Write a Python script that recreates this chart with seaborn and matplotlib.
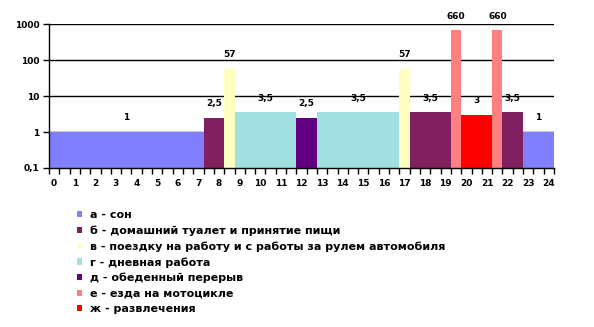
import numpy as np
import pandas as pd
import matplotlib
matplotlib.use("Agg")
import matplotlib.pyplot as plt
import seaborn as sns
from matplotlib.ticker import FixedLocator, FixedFormatter, NullLocator
from matplotlib.patches import Rectangle

# ---- data ----
activities = [
    "а - сон",
    "б - домашний туалет и принятие пищи",
    "в - поездку на работу и с работы за рулем автомобиля",
    "г - дневная работа",
    "д - обеденный перерыв",
    "е - езда на мотоцикле",
    "ж - развлечения",
]
activity_colors = ["#8080FF", "#80205F", "#FFFFC0", "#A0E0E0", "#600080", "#FF8080", "#FF0000"]

# consecutive segments of the day (activity index, start hour, value, label)
seg_activity = [0, 1, 2, 3, 4, 3, 2, 1, 5, 6, 5, 1, 0]
seg_start_hour = [0, 7.5, 8.5, 9, 12, 13, 17, 17.5, 19.5, 20, 21.5, 22, 23]
seg_value = [1, 2.5, 57, 3.5, 2.5, 3.5, 57, 3.5, 660, 3, 660, 3.5, 1]
seg_label = ["1", "2,5", "57", "3,5", "2,5", "3,5", "57", "3,5", "660", "3", "660", "3,5", "1"]

# half-hour slots 0, 0.5, ..., 24
slot_hours = [h / 2 for h in range(49)]
hour_labels = [str(h) for h in range(25)]
y_tick_values = [0.1, 1, 10, 100, 1000]
y_tick_labels = ["0,1", "1", "10", "100", "1000"]

# ---- build table ----
rows = []
for i, h in enumerate(slot_hours):
    seg = max(k for k, s in enumerate(seg_start_hour) if s <= h)
    rows.append({"slot": i, "hour": h, "activity": activities[seg_activity[seg]],
                 "value": seg_value[seg], "seg": seg})
df = pd.DataFrame(rows)

plt.rcParams["font.family"] = ["DejaVu Sans"]
plt.rcParams["font.weight"] = "bold"

fig = plt.figure(figsize=(5.94, 3.27), dpi=100)
fig.patch.set_facecolor("white")
ax = fig.add_axes([49 / 594, 1 - 168 / 327, 505 / 594, 144 / 327])
ax.set_yscale("log")

sns.barplot(data=df, x="slot", y="value", hue="activity", hue_order=activities,
            palette=activity_colors, dodge=False, width=1, errorbar=None,
            saturation=1, linewidth=0, ax=ax, legend=False)

ax.set_xlim(-0.5, 48.5)
ax.set_ylim(0.1, 1000)
ax.set_xlabel("")
ax.set_ylabel("")

# grid
ax.set_axisbelow(True)
ax.yaxis.grid(True, which="major", color="black", linewidth=1)
ax.xaxis.grid(False)
for s in ["top", "right"]:
    ax.spines[s].set_visible(False)
for s in ["left", "bottom"]:
    ax.spines[s].set_color("black")
    ax.spines[s].set_linewidth(1)

# y ticks
ax.yaxis.set_major_locator(FixedLocator(y_tick_values))
ax.yaxis.set_major_formatter(FixedFormatter(y_tick_labels))
ax.yaxis.set_minor_locator(NullLocator())
ax.tick_params(axis="y", which="major", length=4, width=1, pad=3, labelsize=6.5, colors="black")

# x ticks: labels at whole hours, tick marks at slot boundaries
ax.xaxis.set_major_locator(FixedLocator([i for i, h in enumerate(slot_hours) if h == int(h)]))
ax.xaxis.set_major_formatter(FixedFormatter(hour_labels))
ax.xaxis.set_minor_locator(FixedLocator([i - 0.5 for i in range(50)]))
ax.tick_params(axis="x", which="major", length=0, pad=8, labelsize=6.5, colors="black")
ax.tick_params(axis="x", which="minor", length=4, width=1, color="black")

# data labels, one per segment
for k in range(len(seg_value)):
    slots = df.loc[df["seg"] == k, "slot"]
    xc = (slots.min() + slots.max()) / 2
    ax.annotate(seg_label[k], (xc, seg_value[k]), xytext=(0, 7), textcoords="offset points",
                ha="center", va="bottom", fontsize=6.5, fontweight="bold", color="black")

# legend
handles = [Rectangle((0, 0), 1, 1, facecolor=c, edgecolor="none") for c in activity_colors]
fig.legend(handles, activities, loc="upper left", bbox_to_anchor=(77 / 594, 1 - 210 / 327),
           frameon=False, fontsize=8, handlelength=0.47, handleheight=0.47,
           handletextpad=0.7, labelspacing=0.48, borderpad=0, borderaxespad=0)

fig.savefig("out.png", dpi=100, facecolor="white")
